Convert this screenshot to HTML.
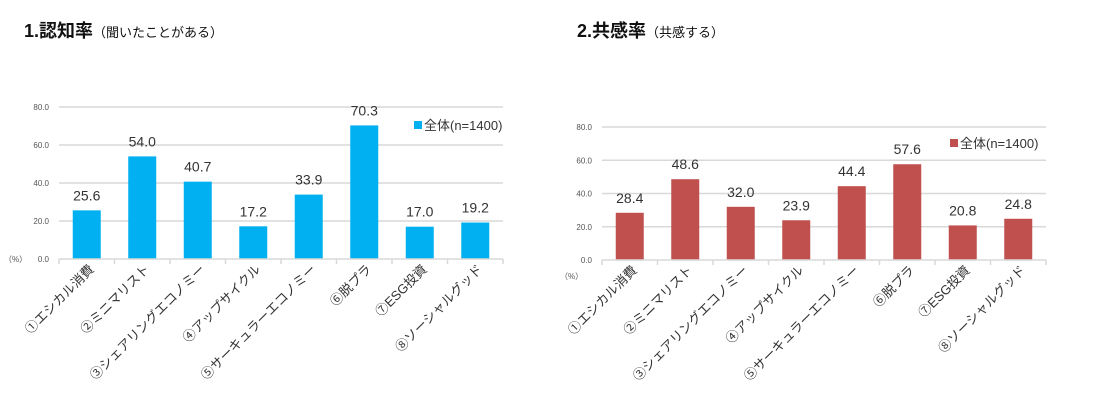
<!DOCTYPE html>
<html><head><meta charset="utf-8">
<style>
body{margin:0;background:#fff;width:1097px;height:420px;overflow:hidden;font-family:"Liberation Sans","Noto Sans CJK JP",sans-serif;}
.t{position:absolute;top:17px;font-size:18px;font-weight:bold;color:#111;}
.t span{font-size:13px;font-weight:normal;}
</style></head><body>
<div class="t" style="left:24px">1.認知率<span>（聞いたことがある）</span></div>
<div class="t" style="left:577px">2.共感率<span>（共感する）</span></div>
<svg id="svg" width="1097" height="420" style="position:absolute;left:0;top:0"></svg>
<script>
const categories=["①エシカル消費","②ミニマリスト","③シェアリングエコノミー","④アップサイクル","⑤サーキュラーエコノミー","⑥脱プラ","⑦ESG投資","⑧ソーシャルグッド"];
const awarenessValues=[25.6,54.0,40.7,17.2,33.9,70.3,17.0,19.2];
const empathyValues=[28.4,48.6,32.0,23.9,44.4,57.6,20.8,24.8];
const yTicks=[0,20,40,60,80];
const legendLabel="全体(n=1400)";
const NS="http://www.w3.org/2000/svg";
const svg=document.getElementById('svg');
function mk(t,a,p){const e=document.createElementNS(NS,t);for(const k in a)e.setAttribute(k,a[k]);(p||svg).appendChild(e);return e;}
function chart(cfg,values){
  const g=mk('g',{});
  
  
  const y=v=>cfg.y0-(v/80)*(cfg.y0-cfg.y80);
  const cw=(cfg.x1-cfg.x0)/categories.length;
  yTicks.forEach(t=>{
    if(t>0){const l=mk('line',{x1:cfg.x0,x2:cfg.x1,y1:y(t),y2:y(t),stroke:'#d9d9d9','stroke-width':1.5},g);
    }
    const tx=mk('text',{x:cfg.x0-10,y:y(t)+3,'font-size':8,'text-anchor':'end',fill:'#555'},g);
    
    tx.textContent=t.toFixed(1);
  });
  values.forEach((v,i)=>{
    const cx=cfg.x0+cw*(i+0.5);
    const r=mk('rect',{x:cx-14,y:y(v),width:28,height:y(0)-y(v),fill:cfg.color},g);
    
    const vt=mk('text',{x:cx,y:y(v)-10,'font-size':14,'text-anchor':'middle',fill:'#333'},g);
    
    vt.textContent=v.toFixed(1);
    const lt=mk('text',{x:0,y:0,'font-size':13,'text-anchor':'end',fill:'#333',transform:`translate(${cx+8},${y(0)+11}) rotate(-45)`},g);
    
    lt.textContent=categories[i];
  });
  const ax=mk('line',{x1:cfg.x0,x2:cfg.x1,y1:y(0),y2:y(0),stroke:'#d9d9d9','stroke-width':1.5},g);
  
  for(let i=0;i<=categories.length;i++){const x=cfg.x0+cw*i;
    const tk=mk('line',{x1:x,x2:x,y1:y(0),y2:y(0)+5,stroke:'#d9d9d9','stroke-width':1.5},g);
    }
  const pu=mk('text',{x:cfg.px,y:cfg.py,'font-size':8,fill:'#555'},g);
  pu.textContent='（%）';
  const ls=mk('rect',{x:cfg.lx,y:cfg.ly-9,width:8,height:8,fill:cfg.color},g);
  
  const lt=mk('text',{x:cfg.lx+10,y:cfg.ly,'font-size':13,fill:'#333'},g);
  lt.textContent=legendLabel;
}
chart({name:'awareness-chart',x0:59,x1:503,y0:259,y80:107,color:'#00b0f0',px:4,py:262,lx:414,ly:130},awarenessValues);
chart({name:'empathy-chart',x0:602,x1:1046,y0:260,y80:127,color:'#c0504d',px:560,py:279,lx:950,ly:148},empathyValues);
</script>
</body></html>
